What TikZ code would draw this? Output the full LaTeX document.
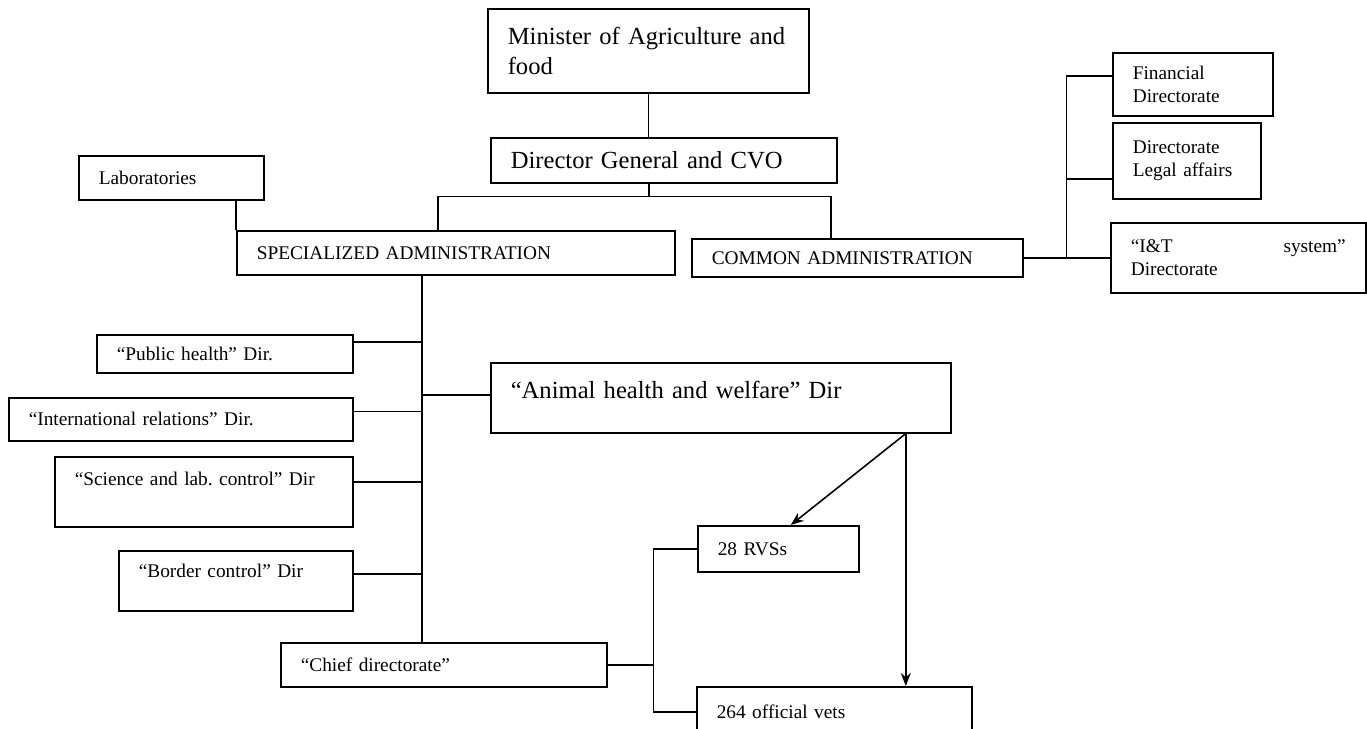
\documentclass[tikz,border=0pt]{standalone}
\usepackage{fontspec}
\setmainfont{Liberation Serif}
\usetikzlibrary{arrows.meta}
\frenchspacing
\begin{document}
\begin{tikzpicture}[>={Stealth[length=2.6mm,width=2mm]},line width=0.9pt,font=\fontsize{11}{13.5}\selectfont,
	box/.style={draw,anchor=north west,inner xsep=0.4cm,inner ysep=0pt,align=left},
	big/.style={font=\fontsize{14}{17}\selectfont}]
			\useasboundingbox (0,0) rectangle (27.34,-14.58);
			\node[box,big,text width=5.62cm,minimum height=1.68cm] (min) at (9.74,-0.16) {Minister of Agriculture and\\food};
			\node[box,big,text width=6.12cm,minimum height=0.9cm] (dg) at (9.8,-2.74) {Director General and CVO};
			\node[box,text width=2.9cm,minimum height=0.88cm] (lab) at (1.56,-3.1) {Laboratories};
			\node[box,text width=7.96cm,minimum height=0.88cm] (spec) at (4.72,-4.6) {SPECIALIZED ADMINISTRATION};
			\node[box,text width=5.82cm,minimum height=0.76cm] (common) at (13.82,-4.76) {COMMON ADMINISTRATION};
			\node[box,text width=2.4cm,minimum height=1.26cm] (fin) at (22.24,-1.04) {Financial\\Directorate};
			\node[box,text width=2.16cm,minimum height=1.52cm] (legal) at (22.24,-2.44) {Directorate\\Legal affairs};
			\node[box,text width=4.3cm,minimum height=1.4cm] (it) at (22.2,-4.44) {“I\&T\hfill system”\\Directorate};
			\node[box,text width=4.32cm,minimum height=0.76cm] (pub) at (1.92,-6.68) {“Public health” Dir.};
			\node[box,text width=6.08cm,minimum height=0.86cm] (intl) at (0.16,-7.94) {“International relations” Dir.};
			\node[box,text width=5.16cm,text height=0.58cm,text depth=0.82cm] (sci) at (1.08,-9.12) {“Science and lab. control” Dir};
			\node[box,text width=3.88cm,text height=0.54cm,text depth=0.66cm] (bord) at (2.36,-11) {“Border control” Dir};
			\node[box,text width=5.72cm,minimum height=0.88cm] (chief) at (5.6,-12.84) {“Chief directorate”};
			\node[box,big,text width=8.4cm,text height=0.72cm,text depth=0.68cm] (anim) at (9.8,-7.24) {“Animal health and welfare” Dir};
			\node[box,text width=2.42cm,minimum height=0.92cm] (rvs) at (13.94,-10.5) {28 RVSs};
			\node[box,text width=4.7cm,minimum height=1cm] (vets) at (13.92,-13.72) {264 official vets};
			\draw (min.south) -- (min.south |- dg.north);
			\draw ([xshift=-3mm]dg.south) -- ++(0,-0.26) coordinate (dgj);
			\draw ([xshift=-3.6mm]spec.north) |- (dgj) -| ([xshift=-5.3mm]common.north);
			\draw (lab.south -| spec.north west) -- (spec.north west);
			\coordinate (trunk) at ([xshift=-6.8mm]spec.south);
			\draw (trunk) -- (trunk |- chief.north);
			\draw ([yshift=2.4mm]pub.east) -- ([yshift=2.4mm]pub.east -| trunk);
			\draw ([yshift=1.6mm]intl.east) -- ([yshift=1.6mm]intl.east -| trunk);
			\draw (sci.mid east) -- (sci.mid east -| trunk);
			\draw (bord.mid east) -- (bord.mid east -| trunk);
			\draw (anim.mid west) -- (anim.mid west -| trunk);
			\draw (chief.east) -- ++(0.92,0) coordinate (cj);
			\draw (rvs.west) -| (cj |- vets.west) -- (vets.west);
			\draw (common.east) -- ++(0.86,0) coordinate (rj);
			\draw ([yshift=1.7mm]fin.west) -| (rj |- it.west) -- (it.west);
			\draw ([yshift=-3.6mm]legal.west) -- ([yshift=-3.6mm]legal.west -| rj);
			\coordinate (aj) at ([xshift=3.7cm]anim.south);
			\draw[->] (aj) -- ([xshift=2.5mm]rvs.north);
			\draw[->] (aj) -- (aj |- vets.north);
	\end{tikzpicture}
\end{document}
